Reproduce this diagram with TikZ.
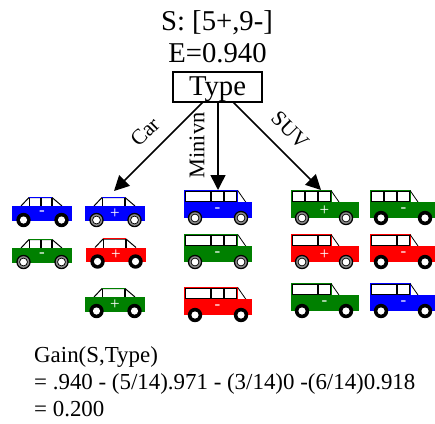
\documentclass[tikz,border=0pt]{standalone}
\usepackage{fontspec}
\setmainfont{Liberation Serif}
\usetikzlibrary{arrows.meta}
\tikzset{
  caption/.style={inner sep=0pt,anchor=base,font=\fontsize{28.7}{30}\selectfont},
  branch/.style={inner sep=0pt,font=\fontsize{21.5}{24}\selectfont},
  gain/.style={inner sep=0pt,anchor=base west,font=\fontsize{22.9}{25}\selectfont},
  edge/.style={draw=black,line width=1.5pt,-{Triangle[length=15pt,width=15pt]}},
  pane/.style={draw=black,line width=.9pt,fill=white},
  signtext/.style={inner sep=0pt,text=white,font=\fontsize{17}{18}\selectfont},
}
% wheels: plain and hubcapped
\newcommand{\plainwheel}[2]{%
  \fill[black] (#1,#2) circle (7.2);
  \fill[white] (#1,#2) circle (3.6);}
\newcommand{\fancywheel}[2]{%
  \fill[black] (#1,#2) circle (7.2);
  \fill[black!45] (#1,#2) circle (5.8);
  \fill[black] (#1,#2) circle (4.3);
  \fill[white] (#1,#2) circle (3.4);}
% sedan: id, left, body top, colour, sign, wheel macro, panes (1 or 3)
\newcommand{\sedan}[7]{%
  \begin{scope}[shift={(#2,#3)}]
    \fill[white] (9,0) -- (17,-8.5) -- (40,-8.5) -- (50,0) -- cycle;
    \draw[black,line width=1pt] (9,0) -- (17,-8.5) -- (40,-8.5) -- (50,0);
    \draw[black,line width=1.1pt] (17.5,-8.5) -- (17.5,0) (40,-8.5) -- (40,0);
    \ifnum#7=3 \draw[black,line width=1.1pt] (29,-8.5) -- (29,0); \fi
    \draw[#4,line width=.8pt] (17,-9) -- (40,-9);
    \fill[#4] (0,0) rectangle (60,14.5);
    #6{11.5}{14}
    #6{49.5}{14}
    \node[signtext] (sign#1) at (30,7.6) {#5};
  \end{scope}}
% cab with panes: id, left, cab top, colour, sign, wheel macro, roof end, rear wheel x, pane edges
\newcommand{\boxcar}[9]{%
  \begin{scope}[shift={(#2,#3)}]
    \draw[#4,fill=white,line width=1pt] (0.5,12) -- (0.5,0.5) -- (#7,0.5) -- (#7,12);
    \foreach \pa/\pb in {#9}
      \draw[pane] (\pa,1.8) rectangle (\pb,11.6);
    \draw[black,line width=.8pt] (#7,0.5) -- ({#7+8},12);
    \fill[#4] (0,12) rectangle (68,28);
    #6{11}{28}
    #6{#8}{28}
    \node[signtext] (sign#1) at (33.5,20.5) {#5};
  \end{scope}}

\begin{document}
\begin{tikzpicture}[x=1pt,y=-1pt]
\useasboundingbox (0,0) rectangle (435,423);

\node[caption] (entropyset) at (217,30) {S: [5+,9-]};
\node[caption] (entropy) at (217.5,62.3) {E=0.940};
\node[draw=black,line width=1.2pt,minimum width=89pt,minimum height=30pt,inner sep=0pt,
      text height=23pt,text depth=7pt,
      font=\fontsize{28.7}{30}\selectfont] (type) at (217.5,87) {Type};

\coordinate (carfrom) at (203,102);
\coordinate (carto) at (114,191);
\coordinate (minifrom) at (218,102);
\coordinate (minito) at (218,190);
\coordinate (suvfrom) at (233,102);
\coordinate (suvto) at (321,190);
\draw[edge] (carfrom) -- (carto);
\draw[edge] (minifrom) -- (minito);
\draw[edge] (suvfrom) -- (suvto);

\node[branch,rotate=45] (carlabel) at (145,132) {Car};
\node[branch,rotate=90,font=\fontsize{22.4}{24}\selectfont] (minilabel) at (197,145.5) {Minivn};
\node[branch,rotate=-45] (suvlabel) at (290,130) {SUV};

% sedans
\sedan{a}{12}{206}{blue}{-}{\plainwheel}{3}
\sedan{b}{85}{206}{blue}{+}{\fancywheel}{1}
\sedan{c}{12}{248}{green!50!black}{-}{\fancywheel}{3}
\sedan{d}{86}{247.5}{red}{+}{\plainwheel}{1}
\sedan{e}{85}{297}{green!50!black}{+}{\plainwheel}{1}

% minivans
\boxcar{f}{184}{190}{blue}{-}{\fancywheel}{53.7}{57}{{1.2/26.5},{27.5/39.5},{40.5/52.5}}
\boxcar{g}{184}{234}{green!50!black}{-}{\fancywheel}{53.7}{57}{{1.2/26.5},{27.5/39.5},{40.5/52.5}}
\boxcar{h}{184}{287}{red}{-}{\plainwheel}{53.7}{57}{{1.2/26.5},{27.5/39.5},{40.5/52.5}}

% SUVs
\boxcar{i}{291}{190}{green!50!black}{+}{\fancywheel}{40}{55}{{1.2/13.5},{14.5/26.5},{27.5/39.5}}
\boxcar{j}{291}{234}{red}{+}{\fancywheel}{40}{55}{{1.2/26.5},{27.5/39.5}}
\boxcar{k}{291}{283}{green!50!black}{-}{\plainwheel}{40}{55}{{1.2/26.5},{27.5/39.5}}
\boxcar{l}{370}{190}{green!50!black}{-}{\plainwheel}{40}{55}{{1.2/13.5},{14.5/26.5},{27.5/39.5}}
\boxcar{m}{370}{234}{red}{-}{\plainwheel}{40}{55}{{1.2/26.5},{27.5/39.5}}
\boxcar{n}{370}{283}{blue}{-}{\plainwheel}{40}{55}{{1.2/26.5},{27.5/39.5}}

\node[gain] (gainhead) at (34,362) {Gain(S,Type)};
\node[gain] (gainsum) at (34,389) {= .940 - (5/14).971 - (3/14)0 -(6/14)0.918};
\node[gain] (gainval) at (34,416) {= 0.200};
\end{tikzpicture}
\end{document}
